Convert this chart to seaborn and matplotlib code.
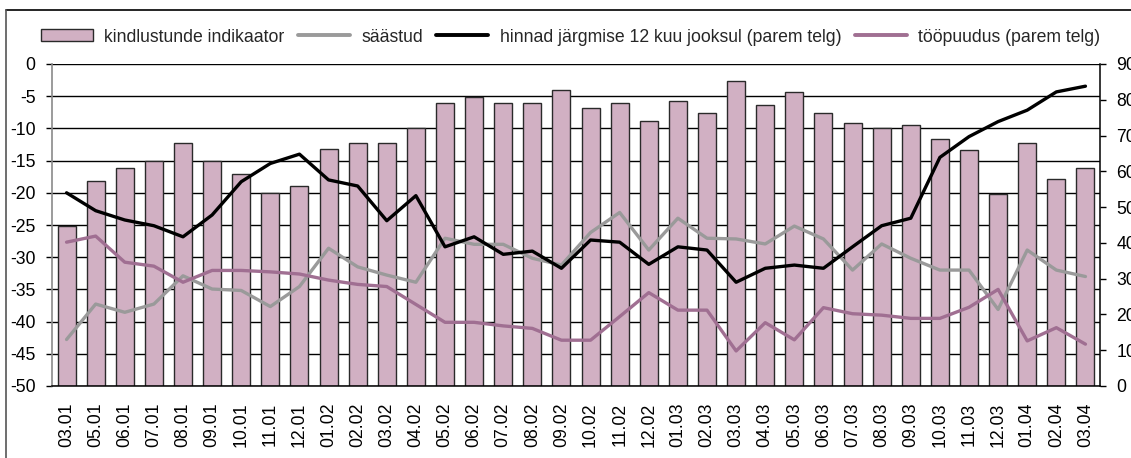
import numpy as np
import pandas as pd
import matplotlib
matplotlib.use("Agg")
import matplotlib.pyplot as plt
from matplotlib.lines import Line2D
from matplotlib.patches import Patch
import seaborn as sns

months = ["03.01", "05.01", "06.01", "07.01", "08.01", "09.01", "10.01", "11.01", "12.01",
          "01.02", "02.02", "03.02", "04.02", "05.02", "06.02", "07.02", "08.02", "09.02",
          "10.02", "11.02", "12.02", "01.03", "02.03", "03.03", "04.03", "05.03", "06.03",
          "07.03", "08.03", "09.03", "10.03", "11.03", "12.03", "01.04", "02.04", "03.04"]

kindlustunde = [-25.2, -18.1, -16.2, -15.0, -12.2, -15.0, -17.1, -20.0, -19.0,
                -13.2, -12.2, -12.2, -10.0, -6.0, -5.1, -6.0, -6.0, -4.1,
                -6.9, -6.0, -8.8, -5.7, -7.6, -2.6, -6.3, -4.4, -7.6,
                -9.1, -10.0, -9.4, -11.6, -13.4, -20.2, -12.2, -17.8, -16.2]

saastud = [13.0, 22.9, 20.6, 22.9, 30.8, 27.1, 26.7, 22.2, 27.8,
           38.5, 33.3, 31.0, 29.0, 41.3, 39.6, 39.6, 35.7, 33.8,
           42.9, 48.5, 38.0, 46.9, 41.3, 41.1, 39.7, 44.7, 41.1,
           32.4, 39.7, 35.7, 32.4, 32.4, 21.4, 38.0, 32.4, 30.6]

hinnad = [54.0, 49.0, 46.4, 44.8, 41.7, 47.8, 57.1, 62.2, 64.8,
          57.6, 55.9, 46.2, 53.2, 38.9, 41.7, 36.8, 37.7, 32.9,
          40.8, 40.2, 34.0, 38.9, 38.0, 29.0, 32.9, 33.8, 32.9,
          38.9, 44.8, 46.9, 63.9, 69.7, 73.9, 77.1, 82.2, 83.8]

toopuudus = [40.2, 41.9, 34.6, 33.5, 29.0, 32.3, 32.3, 31.9, 31.3,
             29.6, 28.4, 27.8, 22.8, 17.8, 17.8, 16.8, 16.1, 12.8,
             12.8, 19.4, 26.1, 21.2, 21.2, 9.8, 17.7, 12.9, 21.9,
             20.2, 19.8, 18.9, 18.9, 22.0, 27.0, 12.6, 16.3, 11.7]

left_ticks = list(range(-50, 1, 5))
right_ticks = list(range(0, 91, 10))
legend_labels = ["kindlustunde indikaator", "säästud",
                 "hinnad järgmise 12 kuu jooksul (parem telg)", "tööpuudus (parem telg)"]

BASE = -50
BAR_COLOR = "#D1B0C3"
GRAY = "#9A9A9A"
PURPLE = "#A06F92"
FS = 12.7

sns.set_theme(style="white")
plt.rcParams["font.family"] = ["Liberation Sans", "DejaVu Sans"]
plt.rcParams["font.size"] = FS

W, H = 1131, 458
fig = plt.figure(figsize=(W / 100, H / 100), dpi=100)
ax = fig.add_axes([52 / W, 1 - 386 / H, (1100 - 52) / W, (386 - 64) / H])

df = pd.DataFrame({"kuu": months, "indikaator": kindlustunde})
df["korgus"] = df["indikaator"] - BASE

sns.barplot(data=df, x="kuu", y="korgus", ax=ax, color=BAR_COLOR, saturation=1,
            width=0.62, edgecolor="#2a2a2a", linewidth=1.0, bottom=BASE, zorder=2)

ax.set_ylim(-50, 0)
ax.set_yticks(left_ticks)
ax.set_yticklabels([str(t) for t in left_ticks])
ax.set_xlim(-0.5, len(months) - 0.5)
ax.set_xlabel("")
ax.set_ylabel("")
ax.yaxis.grid(True, color="black", linewidth=1.0, zorder=0)
ax.set_axisbelow(True)
ax.tick_params(axis="y", which="major", direction="out", length=4.3, width=1.0,
               color="black", pad=7.5, labelsize=FS, left=True)
ax.tick_params(axis="x", length=0, pad=12, labelsize=FS, labelrotation=90)
for lbl in ax.get_yticklabels():
    lbl.set_color("black")
for lbl in ax.get_xticklabels():
    lbl.set_color("black")
ax.spines["top"].set_visible(False)
ax.spines["right"].set_visible(False)
ax.spines["left"].set_color("#8a8a8a")
ax.spines["left"].set_linewidth(1.2)
ax.spines["bottom"].set_color("black")
ax.spines["bottom"].set_linewidth(1.1)

ax2 = ax.twinx()
ldf = pd.DataFrame({"x": np.arange(len(months)), "saastud": saastud,
                    "hinnad": hinnad, "toopuudus": toopuudus})
sns.lineplot(data=ldf, x="x", y="saastud", ax=ax2, color=GRAY, linewidth=2.4, zorder=3)
sns.lineplot(data=ldf, x="x", y="toopuudus", ax=ax2, color=PURPLE, linewidth=2.4, zorder=3)
sns.lineplot(data=ldf, x="x", y="hinnad", ax=ax2, color="black", linewidth=2.4, zorder=4)
ax2.set_ylim(0, 90)
ax2.set_yticks(right_ticks)
ax2.set_yticklabels([str(t) for t in right_ticks])
ax2.set_xlim(-0.5, len(months) - 0.5)
ax2.set_xlabel("")
ax2.set_ylabel("")
ax2.grid(False)
ax2.tick_params(axis="y", direction="out", length=4.3, width=1.0, color="black",
                pad=7.5, labelsize=FS, right=True)
for lbl in ax2.get_yticklabels():
    lbl.set_color("black")
for s in ["top", "left", "bottom"]:
    ax2.spines[s].set_visible(False)
ax2.spines["right"].set_color("black")
ax2.spines["right"].set_linewidth(1.1)

handles = [Patch(facecolor=BAR_COLOR, edgecolor="#2a2a2a", linewidth=1.0),
           Line2D([], [], color=GRAY, linewidth=2.8),
           Line2D([], [], color="black", linewidth=2.8),
           Line2D([], [], color=PURPLE, linewidth=2.8)]
fig.legend(handles, legend_labels, loc="center left", ncol=4,
           bbox_to_anchor=(41 / W, 1 - 37 / H), frameon=False, fontsize=FS,
           handlelength=2.95, handletextpad=0.65, columnspacing=0.75,
           borderaxespad=0, borderpad=0, handleheight=0.65)

# outer frame
fig.add_artist(Line2D([6 / W, 1.0], [1 - 10 / H, 1 - 10 / H], transform=fig.transFigure,
                      color="black", linewidth=1.2))
fig.add_artist(Line2D([6 / W, 6 / W], [0, 1 - 10 / H], transform=fig.transFigure,
                      color="#555555", linewidth=1.2))

fig.savefig("out.png", dpi=100, facecolor="white")
